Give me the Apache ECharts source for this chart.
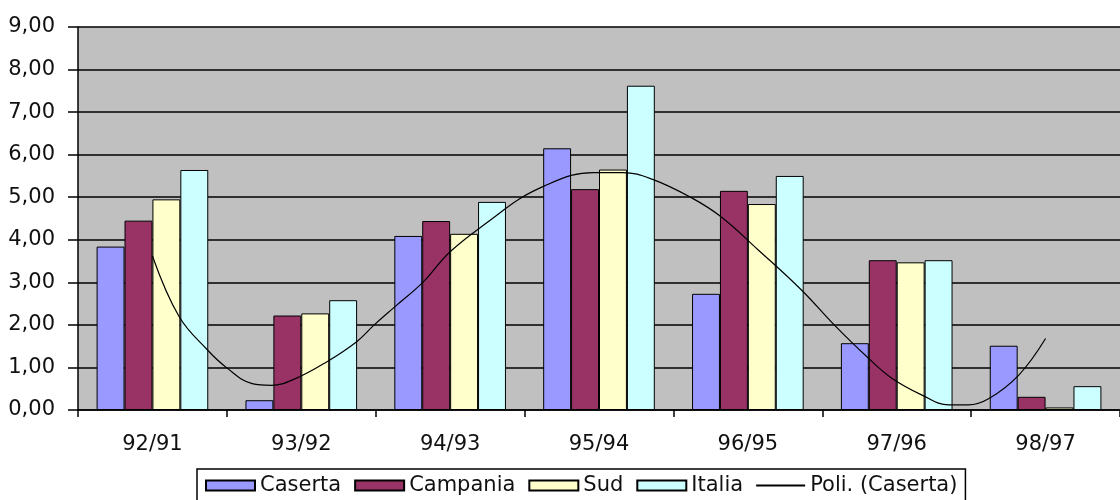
<!DOCTYPE html>
<html><head><meta charset="utf-8">
<script src="https://cdn.jsdelivr.net/npm/echarts@6/dist/echarts.min.js"></script>
<style>html,body{margin:0;padding:0;background:#fff}#c{width:1120px;height:500px}</style>
</head><body><div id="c"></div>
<script>
const categories = ['92/91','93/92','94/93','95/94','96/95','97/96','98/97'];
const caserta  = [3.84, 0.23, 4.09, 6.15, 2.73, 1.57, 1.51];
const campania = [4.45, 2.22, 4.44, 5.19, 5.15, 3.52, 0.31];
const sud      = [4.95, 2.27, 4.14, 5.65, 4.84, 3.47, 0.06];
const italia   = [5.64, 2.58, 4.89, 7.62, 5.50, 3.52, 0.56];
// trend line (Poli. Caserta): [category position, value]
const trendX = [1.0,1.18,1.37,1.5,1.67,1.8,1.95,2.17,2.37,2.49,2.63,2.82,3.0,3.3,3.47,3.63,3.82,3.96,4.16,4.36,4.62,4.82,5.07,5.36,5.58,5.8,5.97,6.17,6.35,6.48,6.62,6.82,7.0];
const trendY = [3.62,2.19,1.41,0.99,0.62,0.58,0.72,1.13,1.6,2.0,2.43,3.01,3.72,4.54,4.97,5.26,5.52,5.58,5.58,5.42,4.99,4.54,3.76,2.82,2.0,1.25,0.74,0.35,0.12,0.12,0.27,0.82,1.68];
const yTicks = {min:0, max:9, interval:1};

const font = 'DejaVu Sans, sans-serif';
const chart = echarts.init(document.getElementById('c'));
const barStyle = c => ({color:c, borderColor:'#000', borderWidth:1});
chart.setOption({
  animation:false,
  backgroundColor:'#fff',
  grid:{left:78, top:27, bottom:90, right:-13, show:true, backgroundColor:'#c0c0c0', borderWidth:0, containLabel:false},
  xAxis:[{
    type:'category', data:categories,
    axisLine:{lineStyle:{color:'#000', width:1.5}},
    axisTick:{show:true, length:7, lineStyle:{color:'#000', width:1.5}},
    axisLabel:{color:'#111', fontFamily:font, fontSize:21, margin:24}
  },{
    type:'value', min:0.5, max:7.5, show:false
  }],
  yAxis:{
    type:'value', min:yTicks.min, max:yTicks.max, interval:yTicks.interval,
    axisLine:{show:true, lineStyle:{color:'#000', width:1.5}},
    axisTick:{show:true, length:10, lineStyle:{color:'#000', width:1.5}},
    splitLine:{lineStyle:{color:'#000', width:1.5}},
    axisLabel:{color:'#111', fontFamily:font, fontSize:21, margin:23,
      formatter:v=>v.toFixed(2).replace('.', ',')}
  },
  legend:{
    left:197, top:469, padding:[6,8,10,8], borderColor:'#000', borderWidth:1.5,
    itemWidth:49, itemHeight:10, itemGap:13, icon:'rect',
    textStyle:{color:'#111', fontFamily:font, fontSize:21, padding:[0,0,0,0]},
    data:['Caserta','Campania','Sud','Italia',{name:'Poli. (Caserta)', icon:'path://M0,0 L50,0 L50,2 L0,2 Z'}]
  },
  series:[
    {name:'Caserta', type:'bar', data:caserta, barGap:'0%', barCategoryGap:'25%', itemStyle:barStyle('#9999ff')},
    {name:'Campania', type:'bar', data:campania, itemStyle:barStyle('#993366')},
    {name:'Sud', type:'bar', data:sud, itemStyle:barStyle('#ffffcc')},
    {name:'Italia', type:'bar', data:italia, itemStyle:barStyle('#ccffff')},
    {name:'Poli. (Caserta)', type:'line', xAxisIndex:1, smooth:0.4, symbol:'none',
      data:trendX.map((x,i)=>[x,trendY[i]]),
      lineStyle:{color:'#000', width:1.2}, itemStyle:{color:'#000'}, z:5}
  ]
});
</script></body></html>
